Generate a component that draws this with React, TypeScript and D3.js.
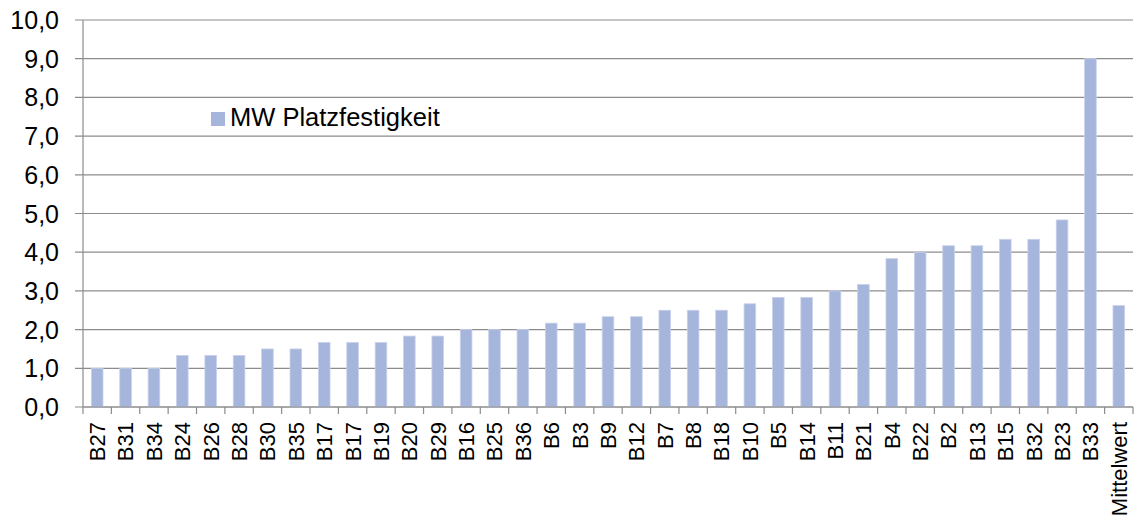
import React from "react";
import * as d3 from "d3";

const categories: string[] = [
  "B27", "B31", "B34", "B24", "B26", "B28", "B30", "B35", "B17", "B17",
  "B19", "B20", "B29", "B16", "B25", "B36", "B6", "B3", "B9", "B12",
  "B7", "B8", "B18", "B10", "B5", "B14", "B11", "B21", "B4", "B22",
  "B2", "B13", "B15", "B32", "B23", "B33", "Mittelwert",
];

const values: number[] = [
  1.0, 1.0, 1.0, 1.333, 1.333, 1.333, 1.5, 1.5, 1.667, 1.667,
  1.667, 1.833, 1.833, 2.0, 2.0, 2.0, 2.167, 2.167, 2.333, 2.333,
  2.5, 2.5, 2.5, 2.667, 2.833, 2.833, 3.0, 3.167, 3.833, 4.0,
  4.167, 4.167, 4.333, 4.333, 4.833, 9.0, 2.62,
];

const yTicks: number[] = [0, 1, 2, 3, 4, 5, 6, 7, 8, 9, 10];
const seriesName = "MW Platzfestigkeit";

const W = 1136;
const H = 523;
const left = 83;
const right = 1133;
const top = 20;
const bottom = 407;
const FONT = "'Liberation Sans', Arial, sans-serif";

export default function App() {
  const x = d3.scaleBand<number>().domain(d3.range(categories.length)).range([left, right]).padding(0);
  const y = d3.scaleLinear().domain([0, 10]).range([bottom, top]);
  const bw = x.bandwidth() * 0.41;
  const fmt = (v: number) => v.toFixed(1).replace(".", ",");
  const gridColor = "#8c8c8c";

  return (
    <svg width={W} height={H} style={{ position: "absolute", left: 0, top: 0, background: "#fff" }}>
      <rect x={0} y={0} width={W} height={H} fill="#fff" />
      {yTicks.map((t) => (
        <g key={"g" + t}>
          <line x1={left - 8} x2={right} y1={y(t)} y2={y(t)} stroke={gridColor} strokeWidth={1.2} />
          <text x={59} y={y(t)} dy="0.36em" textAnchor="end" fontFamily={FONT} fontSize={25} fill="#000">
            {fmt(t)}
          </text>
        </g>
      ))}
      {categories.map((c, i) => (
        <rect
          key={"b" + i}
          x={(x(i) as number) + (x.bandwidth() - bw) / 2}
          y={y(values[i])}
          width={bw}
          height={y(0) - y(values[i])}
          fill="#a6b5db"
          stroke="#c9d2ea"
          strokeWidth={0.8}
        />
      ))}
      <line x1={left} x2={left} y1={top} y2={bottom} stroke={gridColor} strokeWidth={1.2} />
      <line x1={left} x2={right} y1={bottom} y2={bottom} stroke={gridColor} strokeWidth={1.2} />
      {d3.range(categories.length + 1).map((i) => {
        const xx = i < categories.length ? (x(i) as number) : right;
        return <line key={"t" + i} x1={xx} x2={xx} y1={bottom} y2={bottom + 7} stroke={gridColor} strokeWidth={1.2} />;
      })}
      {categories.map((c, i) => {
        const cx = (x(i) as number) + x.bandwidth() / 2;
        return (
          <text
            key={"l" + i}
            transform={`translate(${cx},${bottom + 15}) rotate(-90)`}
            textAnchor="end"
            dy="0.36em"
            fontFamily={FONT}
            fontSize={22}
            fill="#000"
          >
            {c}
          </text>
        );
      })}
      <rect x={211} y={112} width={14} height={14} fill="#a6b5db" />
      <text x={230} y={126} fontFamily={FONT} fontSize={25.5} fill="#000">
        {seriesName}
      </text>
    </svg>
  );
}
